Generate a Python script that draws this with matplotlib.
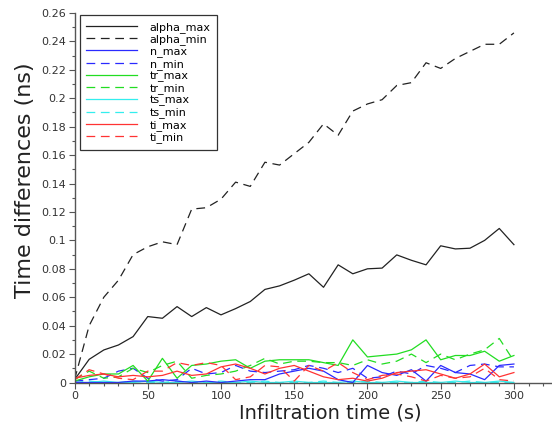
import matplotlib
matplotlib.use("Agg")
import matplotlib.pyplot as plt
from matplotlib.ticker import MultipleLocator

time_s = list(range(0, 301, 10))

alpha_max = [0.002, 0.0163, 0.0229, 0.0264, 0.0323, 0.0464, 0.0452, 0.0534, 0.0464, 0.0527,
             0.0476, 0.052, 0.057, 0.0655, 0.068, 0.072, 0.0765, 0.067, 0.0828, 0.0765,
             0.080, 0.0805, 0.0898, 0.086, 0.0828, 0.0962, 0.094, 0.0945, 0.100, 0.1084, 0.097]
alpha_min = [0.002, 0.040, 0.060, 0.072, 0.090, 0.0955, 0.099, 0.097, 0.122, 0.123,
             0.129, 0.141, 0.138, 0.155, 0.153, 0.161, 0.169, 0.182, 0.174, 0.191,
             0.196, 0.199, 0.209, 0.211, 0.225, 0.221, 0.228, 0.233, 0.238, 0.238, 0.246]
n_max = [0.000, 0.000, 0.000, 0.000, 0.001, 0.001, 0.002, 0.001, 0.000, 0.001,
         0.000, 0.001, 0.002, 0.002, 0.006, 0.008, 0.010, 0.008, 0.002, 0.000,
         0.012, 0.007, 0.005, 0.009, 0.001, 0.012, 0.007, 0.006, 0.002, 0.012, 0.013]
n_min = [0.001, 0.002, 0.003, 0.008, 0.010, 0.003, 0.001, 0.002, 0.010, 0.006,
         0.007, 0.012, 0.008, 0.007, 0.008, 0.009, 0.012, 0.010, 0.007, 0.010,
         0.003, 0.004, 0.008, 0.006, 0.012, 0.010, 0.007, 0.012, 0.013, 0.011, 0.011]
tr_max = [0.001, 0.004, 0.006, 0.006, 0.012, 0.001, 0.017, 0.003, 0.012, 0.013,
          0.015, 0.016, 0.010, 0.015, 0.016, 0.016, 0.016, 0.014, 0.012, 0.030,
          0.018, 0.019, 0.020, 0.023, 0.030, 0.016, 0.019, 0.019, 0.022, 0.015, 0.019]
tr_min = [0.002, 0.008, 0.003, 0.004, 0.010, 0.007, 0.012, 0.015, 0.003, 0.005,
          0.006, 0.008, 0.012, 0.017, 0.013, 0.015, 0.015, 0.014, 0.014, 0.012,
          0.016, 0.013, 0.015, 0.020, 0.014, 0.020, 0.016, 0.020, 0.023, 0.031, 0.015]
ts_max = [0.000, 0.000, 0.001, 0.000, 0.000, 0.001, 0.000, 0.000, 0.001, 0.000,
          0.000, 0.000, 0.001, 0.000, 0.000, 0.001, 0.000, 0.000, 0.000, 0.001,
          0.000, 0.000, 0.001, 0.000, 0.000, 0.000, 0.001, 0.000, 0.000, 0.001, 0.000]
ts_min = [0.000, 0.001, 0.000, 0.000, 0.001, 0.000, 0.000, 0.001, 0.000, 0.000,
          0.001, 0.000, 0.000, 0.001, 0.000, 0.000, 0.000, 0.001, 0.000, 0.000,
          0.001, 0.000, 0.000, 0.000, 0.001, 0.000, 0.000, 0.001, 0.000, 0.000, 0.000]
ti_max = [0.003, 0.005, 0.006, 0.004, 0.005, 0.004, 0.005, 0.008, 0.005, 0.006,
          0.011, 0.013, 0.010, 0.006, 0.010, 0.012, 0.008, 0.004, 0.002, 0.003,
          0.001, 0.003, 0.007, 0.008, 0.009, 0.006, 0.003, 0.006, 0.013, 0.004, 0.007]
ti_min = [0.002, 0.009, 0.006, 0.003, 0.002, 0.008, 0.008, 0.014, 0.012, 0.014,
          0.012, 0.002, 0.004, 0.012, 0.011, 0.001, 0.012, 0.008, 0.014, 0.007,
          0.002, 0.005, 0.006, 0.004, 0.001, 0.005, 0.003, 0.004, 0.010, 0.002, 0.001]

series = [
    ("alpha_max", alpha_max, "#222222", "-"),
    ("alpha_min", alpha_min, "#222222", "--"),
    ("n_max", n_max, "#2a2aff", "-"),
    ("n_min", n_min, "#2a2aff", "--"),
    ("tr_max", tr_max, "#22dd22", "-"),
    ("tr_min", tr_min, "#22dd22", "--"),
    ("ts_max", ts_max, "#33eeee", "-"),
    ("ts_min", ts_min, "#33eeee", "--"),
    ("ti_max", ti_max, "#ff3333", "-"),
    ("ti_min", ti_min, "#ff3333", "--"),
]

fig = plt.figure(figsize=(5.52, 4.28), dpi=100)
ax = fig.add_axes([0.135, 0.1063, 0.865, 0.8633])

# draw cyan first so that it sits underneath like in the reference
order = [6, 7, 0, 1, 2, 3, 4, 5, 8, 9]
handles = {}
for i in order:
    name, vals, color, ls = series[i]
    kw = dict(color=color, lw=0.9, label=name)
    if ls == "--":
        kw["dashes"] = (7, 4.5)
    handles[i], = ax.plot(time_s, vals, **kw)

ax.set_xlim(0, 326)
ax.set_ylim(0, 0.26)
ax.xaxis.set_major_locator(MultipleLocator(50))
ax.xaxis.set_minor_locator(MultipleLocator(10))
ax.yaxis.set_minor_locator(MultipleLocator(0.01))
ax.set_yticks([0, 0.02, 0.04, 0.06, 0.08, 0.1, 0.12, 0.14, 0.16, 0.18, 0.2, 0.22, 0.24, 0.26])
ax.set_yticklabels(["0", "0.02", "0.04", "0.06", "0.08", "0.1", "0.12", "0.14", "0.16",
                    "0.18", "0.2", "0.22", "0.24", "0.26"])

for s in ("top", "right"):
    ax.spines[s].set_visible(False)
for s in ("left", "bottom"):
    ax.spines[s].set_color("#555555")
    ax.spines[s].set_linewidth(1.0)

ax.tick_params(which="major", direction="out", length=4, width=0.8, colors="#555555",
               labelsize=8, labelcolor="#333333", pad=2)
ax.tick_params(which="minor", direction="out", length=2, width=0.8, colors="#555555")

ax.set_xlabel("Infiltration time (s)", fontsize=14, color="#222222")
ax.set_ylabel("Time differences (ns)", fontsize=16, color="#222222")
ax.xaxis.set_label_coords(0.535, -0.058)
ax.yaxis.set_label_coords(-0.082, 0.548)

leg = ax.legend([handles[i] for i in range(10)], [s[0] for s in series],
                loc="upper left", bbox_to_anchor=(0.006, 1.0), fontsize=8,
                handlelength=4.6, handletextpad=1.1, labelspacing=0.12,
                borderpad=0.6, fancybox=False, framealpha=1, edgecolor="#333333",
                borderaxespad=0.2)
leg.get_frame().set_linewidth(0.9)

fig.savefig("out.png", dpi=100)
